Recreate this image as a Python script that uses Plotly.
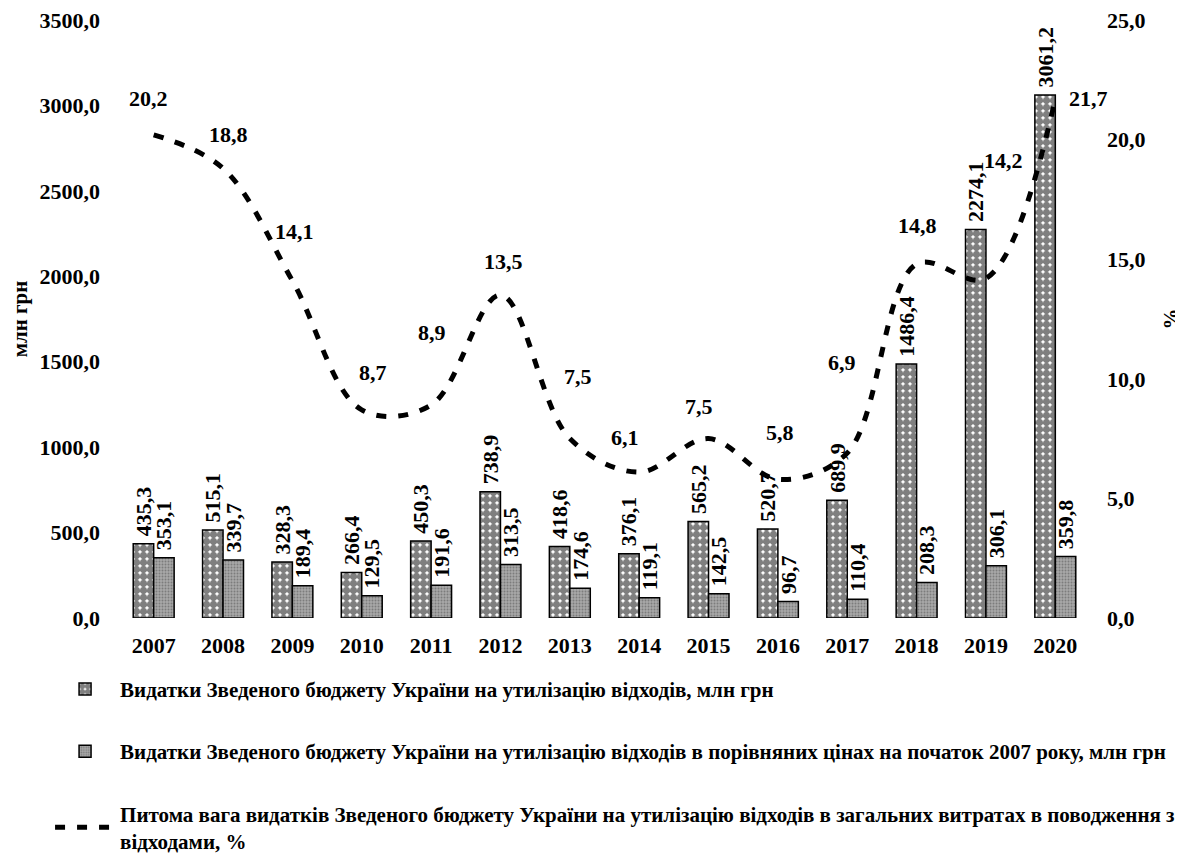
import plotly.graph_objects as go

years = ["2007", "2008", "2009", "2010", "2011", "2012", "2013",
         "2014", "2015", "2016", "2017", "2018", "2019", "2020"]
spend_nominal = [435.3, 515.1, 328.3, 266.4, 450.3, 738.9, 418.6,
                 376.1, 565.2, 520.7, 689.9, 1486.4, 2274.1, 3061.2]
spend_real = [353.1, 339.7, 189.4, 129.5, 191.6, 313.5, 174.6,
              119.1, 142.5, 96.7, 110.4, 208.3, 306.1, 359.8]
share_pct = [20.2, 18.8, 14.1, 8.7, 8.9, 13.5, 7.5,
             6.1, 7.5, 5.8, 6.9, 14.8, 14.2, 21.7]

name1 = "Видатки Зведеного бюджету України на утилізацію відходів, млн грн"
name2 = ("Видатки Зведеного бюджету України на утилізацію відходів в порівняних "
         "цінах на початок 2007 року, млн грн")
name3 = ("Питома вага видатків Зведеного бюджету України на утилізацію відходів "
         "в загальних витратах в поводження з<br>відходами, %")

# label offsets (pixels) for line data labels
label_dx = [-5, 5, 2, 11, 1, 3, 8, -14, -10, 2, -5, 1, 18, 33]
label_dy = [36, 34, 49, 37, 73, 34, 62, 35, 32, 47, 90, 38, 118, 0]

FONT = "Liberation Serif"
FS = 22
LFS = 21

fig = go.Figure()
fig.add_trace(go.Bar(
    x=years, y=spend_nominal, name=name1, legendgroup="a",
    marker=dict(color="white", line=dict(color="black", width=1.5),
                pattern=dict(shape=".", fgcolor="black", bgcolor="white",
                             size=7, solidity=0.8)),
    text=spend_nominal, texttemplate="\u2009%{y:.1f}", textposition="outside",
    textangle=-90, constraintext="none", cliponaxis=False,
    textfont=dict(family=FONT, size=FS, color="black", weight="bold"),
))
fig.add_trace(go.Bar(
    x=years, y=spend_real, name=name2, legendgroup="b",
    marker=dict(color="#8c8c8c", line=dict(color="black", width=1.5),
                pattern=dict(shape=".", fgcolor="#505050", bgcolor="#a8a8a8",
                             size=3, solidity=0.35)),
    text=spend_real, texttemplate="\u2009%{y:.1f}", textposition="outside",
    textangle=-90, constraintext="none", cliponaxis=False,
    textfont=dict(family=FONT, size=FS, color="black", weight="bold"),
))
fig.add_trace(go.Scatter(
    x=years, y=share_pct, name=name3, legendgroup="c", yaxis="y2",
    mode="lines", line=dict(color="black", width=5, dash="10px,12px",
                            shape="spline", smoothing=1.0),
    cliponaxis=False,
))

# category index is used as the x position on the category axis
for i, v in enumerate(share_pct):
    fig.add_annotation(x=i, y=v, xref="x", yref="y2",
                       text=f"{v:.1f}".replace(".", ","),
                       showarrow=False, xshift=label_dx[i], yshift=label_dy[i],
                       font=dict(family=FONT, size=FS, color="black", weight="bold"))

fig.update_layout(
    width=1175, height=849,
    margin=dict(l=111, r=93, t=12, b=239, autoexpand=False),
    paper_bgcolor="white", plot_bgcolor="white",
    separators=", ",
    font=dict(family=FONT, size=FS, color="black", weight="bold"),
    barmode="group", bargap=0.41, bargroupgap=0,
    showlegend=True,
    legend=dict(x=-0.071, y=-0.085, xanchor="left", yanchor="top",
                orientation="v", tracegroupgap=32,
                font=dict(family=FONT, size=LFS, color="black", weight="bold"),
                itemwidth=60, bgcolor="rgba(0,0,0,0)"),
    xaxis=dict(type="category", range=[-0.5, 13.5], showline=False,
               showgrid=False, zeroline=False, automargin=False,
               ticks="", ticklabelstandoff=12, ticklabeloverflow="allow",
               tickfont=dict(family=FONT, size=FS, weight="bold")),
    yaxis=dict(range=[0, 3500], dtick=500, tickformat=".1f", showgrid=False,
               zeroline=False, showline=False, ticks="", ticklabelstandoff=18,
               automargin=False, ticklabeloverflow="allow",
               title=dict(text="млн грн", standoff=14,
                          font=dict(family=FONT, size=LFS, weight="bold")),
               tickfont=dict(family=FONT, size=FS, weight="bold")),
    yaxis2=dict(range=[0, 25], dtick=5, tickformat=".1f", overlaying="y",
                side="right", showgrid=False, zeroline=False, showline=False,
                ticks="", ticklabelstandoff=16, automargin=False,
                ticklabeloverflow="allow",
                title=dict(text="%", standoff=18,
                           font=dict(family=FONT, size=LFS, weight="bold")),
                tickfont=dict(family=FONT, size=FS, weight="bold")),
)

fig.write_html("out.html")
